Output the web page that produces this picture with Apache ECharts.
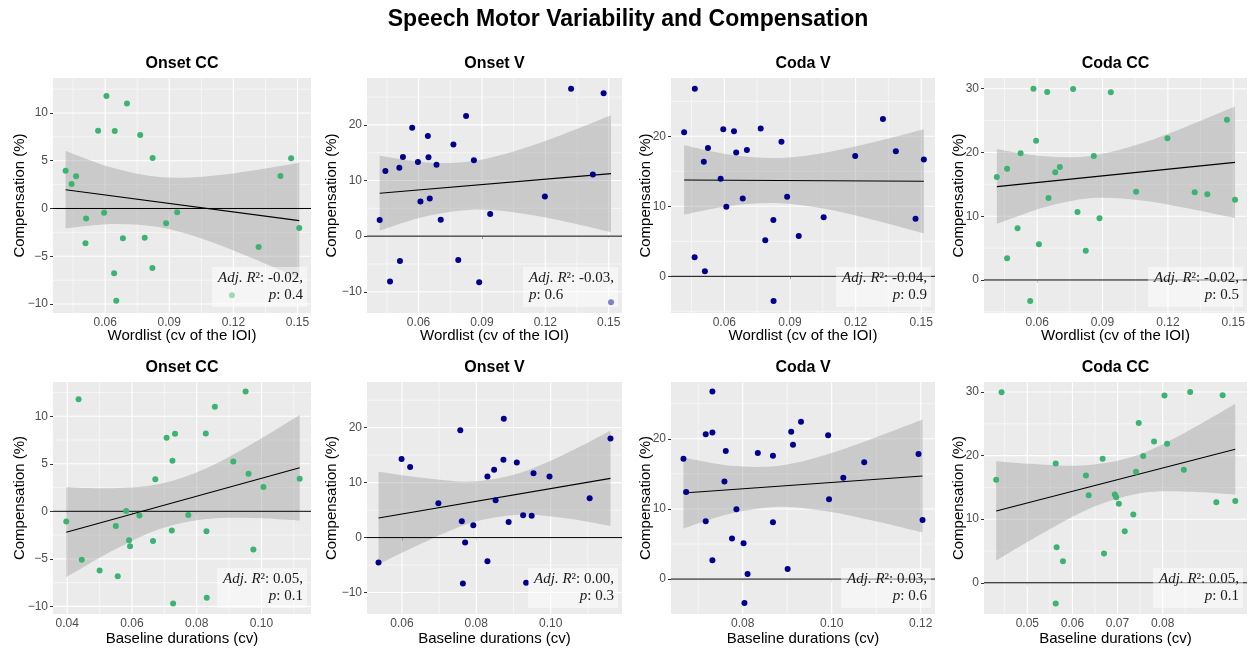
<!DOCTYPE html>
<html><head><meta charset="utf-8">
<script src="https://cdn.jsdelivr.net/npm/echarts@6/dist/echarts.min.js"></script>
<style>html,body{margin:0;padding:0;background:#fff}#c{width:1257px;height:652px}</style>
</head><body><div id="c"></div>
<script>
// ---------------- DATA ----------------
const mainTitle = 'Speech Motor Variability and Compensation';
const panelTitles = ['Onset CC','Onset V','Coda V','Coda CC','Onset CC','Onset V','Coda V','Coda CC'];
const xTitles = ['Wordlist (cv of the IOI)','Wordlist (cv of the IOI)','Wordlist (cv of the IOI)','Wordlist (cv of the IOI)',
  'Baseline durations (cv)','Baseline durations (cv)','Baseline durations (cv)','Baseline durations (cv)'];
const yTitle = 'Compensation (%)';
const r2Labels = ['-0.02','-0.03','-0.04','-0.02','0.05','0.00','0.03','0.05'];
const pLabels = ['0.4','0.6','0.9','0.5','0.1','0.3','0.6','0.1'];

// Panel 1: Onset CC (wordlist)
const p1X = [0.0415,0.0443,0.0464,0.0511,0.0508,0.0567,0.0595,0.0606,0.0645,0.0642,0.0652,0.0683,0.0702,0.0764,0.0785,0.0822,0.0821,0.0885,0.0937,0.1318,0.1420,0.1470,0.1508,0.1193];
const p1Y = [3.96,2.57,3.37,-1.06,-3.65,8.15,-0.44,11.78,8.12,-6.79,-9.65,-3.12,10.98,7.70,-3.05,5.29,-6.23,-1.55,-0.40,-4.03,3.40,5.25,-2.04,-9.09];
const p1FitX = [0.0415,0.1508], p1FitY = [1.97,-1.27];
const p1BandX = [0.0415,0.0634,0.0852,0.1071,0.1289,0.1508];
const p1Lo = [-2.08,-1.62,-1.95,-3.30,-5.22,-7.34];
const p1Hi = [6.02,4.26,3.29,3.36,3.98,4.80];

// Panel 2: Onset V (wordlist)
const p2X = [0.0416,0.0443,0.0465,0.0509,0.0512,0.0526,0.0570,0.0597,0.0609,0.0644,0.0647,0.0653,0.0685,0.0705,0.0765,0.0788,0.0825,0.0862,0.0887,0.0939,0.1198,0.1322,0.1425,0.1476,0.1511];
const p2Y = [2.90,11.71,-8.15,12.31,-4.47,14.24,19.49,13.34,6.22,17.98,14.18,6.76,12.85,2.96,16.48,-4.28,21.61,13.64,-8.27,3.98,7.12,26.49,11.10,25.71,-11.89];
const p2FitX = [0.0416,0.1511], p2FitY = [7.72,11.23];
const p2BandX = [0.0416,0.0635,0.0854,0.1073,0.1292,0.1511];
const p2Lo = [1.00,3.58,4.76,4.17,2.64,0.73];
const p2Hi = [14.44,13.26,13.48,15.49,18.42,21.73];

// Panel 3: Coda V (wordlist)
const p3X = [0.0416,0.0465,0.0464,0.0506,0.0511,0.0525,0.0583,0.0595,0.0609,0.0644,0.0654,0.0684,0.0703,0.0766,0.0787,0.0824,0.0825,0.0861,0.0887,0.0940,0.1054,0.1198,0.1325,0.1384,0.1474,0.1512];
const p3Y = [20.57,26.81,2.71,16.38,0.71,18.33,13.95,21.00,9.95,20.71,17.67,11.10,18.05,21.10,5.14,8.05,-3.52,19.24,11.38,5.76,8.43,17.19,22.48,17.86,8.24,16.67];
const p3FitX = [0.0416,0.1512], p3FitY = [13.76,13.57];
const p3BandX = [0.0416,0.0635,0.0854,0.1073,0.1293,0.1512];
const p3Lo = [8.79,10.10,10.45,9.57,7.97,6.12];
const p3Hi = [18.73,17.34,16.91,17.73,19.25,21.02];

// Panel 4: Coda CC (wordlist)
const p4X = [0.0415,0.0462,0.0462,0.0510,0.0524,0.0568,0.0583,0.0595,0.0608,0.0646,0.0652,0.0683,0.0704,0.0765,0.0785,0.0823,0.0860,0.0886,0.0938,0.1054,0.1198,0.1323,0.1381,0.1471,0.1508];
const p4Y = [16.15,17.46,3.40,8.10,19.86,-3.29,30.00,21.85,5.59,29.48,12.86,16.88,17.72,29.95,10.66,4.60,19.45,9.67,29.43,13.85,22.22,13.75,13.43,25.14,12.60];
const p4FitX = [0.0415,0.1508], p4FitY = [14.64,18.45];
const p4BandX = [0.0415,0.0634,0.0852,0.1071,0.1290,0.1508];
const p4Lo = [8.79,11.41,12.84,12.51,11.25,9.70];
const p4Hi = [20.49,19.39,19.48,21.35,24.13,27.20];

// Panel 5: Onset CC (baseline)
const p5X = [0.0397,0.0435,0.0445,0.0500,0.0550,0.0556,0.0582,0.0591,0.0594,0.0623,0.0665,0.0672,0.0707,0.0723,0.0725,0.0727,0.0733,0.0774,0.0828,0.0830,0.0831,0.0856,0.0913,0.0951,0.0960,0.0975,0.1006,0.1118];
const p5Y = [-1.08,11.78,-5.10,-6.22,-1.54,-6.82,0.03,-3.04,-3.67,-0.45,-3.11,3.36,7.73,-2.03,5.31,-9.69,8.15,-0.38,8.18,-2.10,-9.09,11.01,5.24,12.59,3.95,-4.02,2.55,3.43];
const p5FitX = [0.0397,0.1118], p5FitY = [-2.20,4.58];
const p5BandX = [0.0397,0.0541,0.0685,0.0830,0.0974,0.1118];
const p5Lo = [-6.94,-4.13,-1.85,-0.80,-0.70,-0.97];
const p5Hi = [2.54,2.43,2.87,4.54,7.16,10.13];

// Panel 6: Onset V (baseline)
const p6X = [0.0537,0.0599,0.0622,0.0698,0.0757,0.0761,0.0764,0.0770,0.0792,0.0830,0.0830,0.0848,0.0852,0.0873,0.0874,0.0887,0.0909,0.0926,0.0934,0.0949,0.0954,0.0997,0.1105,0.1161];
const p6Y = [-4.54,14.28,12.83,6.23,19.54,2.96,-8.35,-0.91,2.24,-4.30,11.13,12.34,6.78,14.16,21.60,2.84,13.67,4.05,-8.23,3.99,11.68,11.13,7.14,18.03];
const p6FitX = [0.0537,0.1161], p6FitY = [3.57,10.77];
const p6BandX = [0.0537,0.0662,0.0786,0.0911,0.1036,0.1161];
const p6Lo = [-4.84,-0.80,2.68,4.16,3.56,2.12];
const p6Hi = [11.98,10.82,10.20,11.62,15.10,19.42];

// Panel 7: Coda V (baseline)
const p7X = [0.0667,0.0673,0.0717,0.0717,0.0732,0.0732,0.0732,0.0762,0.0759,0.0776,0.0786,0.0802,0.0804,0.0811,0.0834,0.0868,0.0868,0.0901,0.0909,0.0913,0.0931,0.0992,0.0994,0.1026,0.1073,0.1195,0.1204];
const p7Y = [17.16,12.42,8.25,20.66,26.73,20.90,2.70,18.25,13.93,5.78,9.95,5.12,-3.41,0.71,17.96,17.58,8.10,1.42,21.00,19.15,22.42,20.52,11.37,14.45,16.64,17.82,8.44];
const p7FitX = [0.0667,0.1204], p7FitY = [12.27,14.69];
const p7BandX = [0.0667,0.0774,0.0882,0.0989,0.1097,0.1204];
const p7Lo = [7.22,9.35,10.32,9.68,8.27,6.64];
const p7Hi = [17.32,16.15,16.16,17.76,20.15,22.74];

// Panel 8: Coda CC (baseline)
const p8X = [0.0431,0.0443,0.0563,0.0565,0.0579,0.0563,0.0630,0.0636,0.0667,0.0670,0.0694,0.0697,0.0703,0.0716,0.0735,0.0741,0.0747,0.0757,0.0781,0.0804,0.0810,0.0847,0.0861,0.0919,0.0933,0.0961];
const p8Y = [16.20,29.95,18.77,5.59,3.40,-3.24,16.88,13.75,19.50,4.60,13.90,13.43,12.44,8.10,10.72,17.46,25.14,19.92,22.22,29.43,21.85,17.77,30.00,12.65,29.48,12.86];
const p8FitX = [0.0431,0.0961], p8FitY = [11.29,21.01];
const p8BandX = [0.0431,0.0537,0.0643,0.0749,0.0855,0.0961];
const p8Lo = [3.49,7.89,11.82,14.07,14.33,13.88];
const p8Hi = [19.09,18.57,18.54,20.17,23.81,28.14];

// axis limits and ticks
const xLimits = [[0.0356,0.1563],[0.0356,0.1563],[0.0356,0.1563],[0.0356,0.1563],[0.0356,0.1153],[0.0506,0.1192],[0.0639,0.1232],[0.0404,0.0987]];
const yLimits = [[-10.94,13.66],[-13.82,28.43],[-5.24,28.33],[-5.18,31.68],[-10.8,13.6],[-13.9,28.3],[-4.98,28.1],[-4.91,31.57]];
const xTicks = [[0.06,0.09,0.12,0.15],[0.06,0.09,0.12,0.15],[0.06,0.09,0.12,0.15],[0.06,0.09,0.12,0.15],
  [0.04,0.06,0.08,0.10],[0.06,0.08,0.10],[0.08,0.10,0.12],[0.05,0.06,0.07,0.08]];
const yTicks = [[-10,-5,0,5,10],[-10,0,10,20],[0,10,20],[0,10,20,30],[-10,-5,0,5,10],[-10,0,10,20],[0,10,20],[0,10,20,30]];

const GREEN = '#3CB371', NAVY = '#00008B';
const pointColors = [GREEN, NAVY, NAVY, GREEN, GREEN, NAVY, NAVY, GREEN];

// ---------------- LAYOUT ----------------
const SANS = '"Liberation Sans", Arial, Helvetica, sans-serif';
const SERIF = '"Liberation Serif", "Times New Roman", serif';
const colLeft = [53, 367, 671, 984];
const colWidth = [258, 255, 264, 263];
const rowTop = [78, 382];
const rowHeight = [235, 232];
const yNameGap = [26, 27.5, 17.5, 17.5];
const xNameGap = [15, 17];

const P = [
  [p1X,p1Y,p1FitX,p1FitY,p1BandX,p1Lo,p1Hi],
  [p2X,p2Y,p2FitX,p2FitY,p2BandX,p2Lo,p2Hi],
  [p3X,p3Y,p3FitX,p3FitY,p3BandX,p3Lo,p3Hi],
  [p4X,p4Y,p4FitX,p4FitY,p4BandX,p4Lo,p4Hi],
  [p5X,p5Y,p5FitX,p5FitY,p5BandX,p5Lo,p5Hi],
  [p6X,p6Y,p6FitX,p6FitY,p6BandX,p6Lo,p6Hi],
  [p7X,p7Y,p7FitX,p7FitY,p7BandX,p7Lo,p7Hi],
  [p8X,p8Y,p8FitX,p8FitY,p8BandX,p8Lo,p8Hi]
];

function minorVals(ticks, lim) {
  const step = ticks[1] - ticks[0];
  const out = [];
  for (let k = 0; k <= ticks.length; k++) {
    const v = (k < ticks.length ? ticks[k] : ticks[ticks.length-1] + step) - step/2;
    if (v > lim[0] && v < lim[1]) out.push(+v.toFixed(6));
  }
  return out;
}
const zip = (a, b) => a.map((v, i) => [v, b[i]]);
const f = n => n.toFixed(2);
function crSegs(Pts) {
  let s = '';
  for (let k = 0; k < Pts.length - 1; k++) {
    const p0 = Pts[Math.max(k-1,0)], p1 = Pts[k], p2 = Pts[k+1], p3 = Pts[Math.min(k+2, Pts.length-1)];
    const c1 = [p1[0] + (p2[0]-p0[0])/6, p1[1] + (p2[1]-p0[1])/6];
    const c2 = [p2[0] - (p3[0]-p1[0])/6, p2[1] - (p3[1]-p1[1])/6];
    s += ' C ' + f(c1[0]) + ' ' + f(c1[1]) + ' ' + f(c2[0]) + ' ' + f(c2[1]) + ' ' + f(p2[0]) + ' ' + f(p2[1]);
  }
  return s;
}

const grids = [], xAxes = [], yAxes = [], series = [], graphics = [];
graphics.push({type:'text', x:628, y:20, z:100, style:{text: mainTitle, align:'center', verticalAlign:'middle',
  font: 'bold 23px ' + SANS, fill:'#000'}});

for (let i = 0; i < 8; i++) {
  const r = Math.floor(i/4), c = i % 4;
  const L = colLeft[c], T = rowTop[r], W = colWidth[c], H = rowHeight[r];
  grids.push({left: L, top: T, width: W, height: H, show: true, backgroundColor: '#EBEBEB', borderWidth: 0,
    containLabel: false, outerBoundsMode: 'none'});
  xAxes.push({type:'value', gridIndex:i, min:xLimits[i][0], max:xLimits[i][1],
    name: xTitles[i], nameLocation:'middle', nameGap: xNameGap[r], nameMoveOverlap:false,
    nameTextStyle:{fontSize:15, color:'#000', fontFamily:SANS},
    axisLine:{show:false}, splitLine:{show:false}, minorSplitLine:{show:false},
    axisTick:{show:true, customValues:xTicks[i], length:3, lineStyle:{color:'#333333', width:1}},
    axisLabel:{customValues:xTicks[i], margin:4, fontSize:12, color:'#4D4D4D', fontFamily:SANS,
      formatter: v => v.toFixed(2)}});
  yAxes.push({type:'value', gridIndex:i, min:yLimits[i][0], max:yLimits[i][1],
    name: yTitle, nameLocation:'middle', nameGap: yNameGap[c], nameMoveOverlap:false,
    nameTextStyle:{fontSize:15, color:'#000', fontFamily:SANS},
    axisLine:{show:false}, splitLine:{show:false}, minorSplitLine:{show:false},
    axisTick:{show:true, customValues:yTicks[i], length:3, lineStyle:{color:'#333333', width:1}},
    axisLabel:{customValues:yTicks[i], margin:5, fontSize:12, color:'#4D4D4D', fontFamily:SANS,
      formatter: v => (v < 0 ? '\u2212' : '') + Math.abs(Math.round(v))}});

  const [px, py, fx, fy, bx, lo, hi] = P[i];
  const x0 = xLimits[i][0], y0 = yLimits[i][0];
  // gridlines: [x, y, orientation(0 vertical / 1 horizontal), width]
  const gl = [];
  xTicks[i].forEach(v => gl.push([v, y0, 0, 1.1]));
  minorVals(xTicks[i], xLimits[i]).forEach(v => gl.push([v, y0, 0, 0.55]));
  yTicks[i].forEach(v => gl.push([x0, v, 1, 1.1]));
  minorVals(yTicks[i], yLimits[i]).forEach(v => gl.push([x0, v, 1, 0.55]));
  series.push({type:'custom', xAxisIndex:i, yAxisIndex:i, data: gl, z:1, silent:true,
    encode:{x:0, y:1},
    renderItem: (params, api) => {
      const cs = params.coordSys;
      const p = api.coord([api.value(0), api.value(1)]);
      const w = api.value(3);
      if (api.value(2) === 0) {
        return {type:'line', shape:{x1:p[0], y1:cs.y, x2:p[0], y2:cs.y + cs.height}, style:{stroke:'#fff', lineWidth:w}};
      }
      return {type:'line', shape:{x1:cs.x, y1:p[1], x2:cs.x + cs.width, y2:p[1]}, style:{stroke:'#fff', lineWidth:w}};
    }});
  // confidence band
  series.push({type:'custom', xAxisIndex:i, yAxisIndex:i, data: bx.map((x, k) => [x, lo[k], hi[k]]), z:2, silent:true,
    encode:{x:0, y:[1,2]},
    renderItem: (params, api) => {
      if (params.dataIndex !== 0) return null;
      const U = bx.map((x, k) => api.coord([x, hi[k]]));
      const D = bx.map((x, k) => api.coord([x, lo[k]])).reverse();
      const d = 'M ' + f(U[0][0]) + ' ' + f(U[0][1]) + crSegs(U) + ' L ' + f(D[0][0]) + ' ' + f(D[0][1]) + crSegs(D) + ' Z';
      return {type:'path', shape:{pathData:d}, style:{fill:'rgba(153,153,153,0.4)', stroke:null}};
    }});
  // zero line
  series.push({type:'custom', xAxisIndex:i, yAxisIndex:i, data: [[x0, 0]], z:3, silent:true, encode:{x:0, y:1},
    renderItem: (params, api) => {
      const cs = params.coordSys;
      const p = api.coord([api.value(0), api.value(1)]);
      return {type:'line', shape:{x1:cs.x, y1:p[1], x2:cs.x + cs.width, y2:p[1]}, style:{stroke:'#000', lineWidth:1}};
    }});
  // regression line
  series.push({type:'line', xAxisIndex:i, yAxisIndex:i, data: zip(fx, fy), symbol:'none',
    lineStyle:{color:'#000', width:1.1}, z:3, silent:true});
  // points
  series.push({type:'scatter', xAxisIndex:i, yAxisIndex:i, data: zip(px, py), symbolSize:6,
    itemStyle:{color:pointColors[i], opacity:1}, z:4, silent:true});

  // panel title
  graphics.push({type:'text', x: L + W/2, y: T - 14, z:100, style:{text: panelTitles[i], align:'center', verticalAlign:'middle',
    font:'bold 16px ' + SANS, fill:'#000'}});
  // annotation
  const al = (i === 1) ? 'left' : 'right';
  graphics.push({type:'text', x: L + W - 4, y: T + H - 6, z:100, style:{
    text: '{i|Adj. R}{n|\u00B2: ' + r2Labels[i] + ',}\n{i|p}{n|: ' + pLabels[i] + '}',
    align:'right', verticalAlign:'bottom', backgroundColor:'rgba(255,255,255,0.5)', padding:[3,4,3,6],
    rich:{ i:{fontFamily:SERIF, fontStyle:'italic', fontSize:15, lineHeight:17, fill:'#1A1A1A', align:al},
           n:{fontFamily:SERIF, fontSize:15, lineHeight:17, fill:'#1A1A1A', align:al} }}});
}

const chart = echarts.init(document.getElementById('c'));
chart.setOption({animation:false, backgroundColor:'#fff', grid:grids, xAxis:xAxes, yAxis:yAxes, series:series, graphic:graphics});
</script>
</body></html>
